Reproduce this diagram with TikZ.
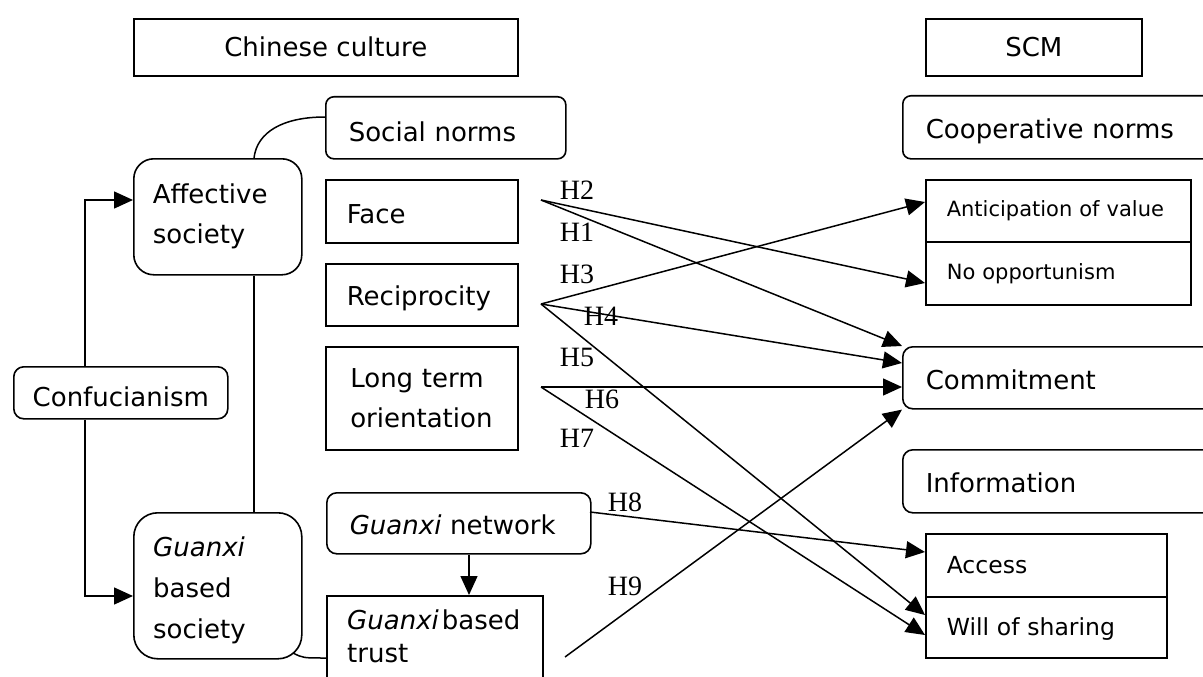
\documentclass[tikz,border=0pt]{standalone}
\usepackage{fontspec}
\setmainfont{DejaVu Sans}
\newfontfamily\hypfont{Liberation Serif}
\usetikzlibrary{arrows.meta}
% lower a one-line label inside its box without changing the box size
\newcommand{\dropby}[2]{\raisebox{-#1}[\height][\depth]{#2}}
\begin{document}
\begin{tikzpicture}[x=1pt,y=-1pt,
  every node/.style={font=\fontsize{26}{40}\selectfont},
  box/.style={draw, line width=1.6pt, anchor=north west, inner ysep=0pt, align=left},
  rbox/.style={box, rounded corners=#1},
  cbox/.style={draw, line width=1.6pt, anchor=north west, inner sep=0pt, align=center},
  small/.style={font=\fontsize{21}{26}\selectfont},
  mid/.style={font=\fontsize{23.5}{28}\selectfont},
  conn/.style={line width=1.5pt},
  arr/.style={conn, -{Triangle[length=19pt,width=17pt]}},
  hyp/.style={font=\hypfont\fontsize{28}{30}\selectfont, inner sep=0pt}]
\useasboundingbox (0,0) rectangle (1203,677);

% column headings
\node[cbox, minimum width=384pt, minimum height=57pt] (culture) at (133,18) {Chinese culture};
\node[cbox, minimum width=216pt, minimum height=57pt] (scm) at (925,18) {SCM};

% Chinese culture side
\node[rbox=8pt, minimum width=240pt, minimum height=62pt, inner xsep=23pt, text width=194pt] (social) at (325,96) {\dropby{4pt}{Social norms}};
\node[rbox=20pt, minimum width=168pt, minimum height=116pt, inner xsep=19pt, text width=130pt] (aff) at (133,158) {Affective\\society};
\node[box, minimum width=192pt, minimum height=63pt, inner xsep=21pt, text width=150pt] (face) at (325,179) {\dropby{3pt}{Face}};
\node[box, minimum width=192pt, minimum height=62pt, inner xsep=21pt, text width=150pt] (recip) at (325,263) {\dropby{4pt}{Reciprocity}};
\node[box, minimum width=192pt, minimum height=103pt, inner xsep=21pt, text width=143pt] (longt) at (325,346) {\makebox[\linewidth][s]{Long term}\\orientation};
\node[cbox, rounded corners=10pt, minimum width=214pt, minimum height=52pt] (conf) at (13,366) {\dropby{4pt}{Confucianism}};
\node[rbox=24pt, minimum width=168pt, minimum height=146pt] (gsoc) at (133,512) {};
\node[anchor=north west, inner sep=0pt, align=left, font=\fontsize{26}{41}\selectfont] (gsoct) at (153,537) {{\itshape Guanxi}\\based\\society};
\node[rbox=10pt, minimum width=264pt, minimum height=61pt, inner xsep=23pt, text width=218pt] (gnet) at (326,492) {\dropby{2pt}{{\itshape Guanxi} network}};
\node[box, minimum width=216pt, minimum height=110pt] (trust) at (326,595) {};
\node[anchor=north west, inner sep=0pt, align=left, font=\fontsize{26}{33}\selectfont] (trustt) at (347,610) {{\itshape Guanxi}\hspace{3pt}based\\trust};

% SCM side
\node[rbox=8pt, minimum width=320pt, minimum height=63pt, inner xsep=23pt, text width=274pt] (coop) at (902,95) {\dropby{4pt}{Cooperative norms}};
\node[box, small, minimum width=265pt, minimum height=62pt, inner xsep=21pt, text width=223pt] (ant) at (925,179) {Anticipation of value};
\node[box, small, minimum width=265pt, minimum height=63pt, inner xsep=21pt, text width=223pt] (opp) at (925,241) {No opportunism};
\node[rbox=10pt, minimum width=320pt, minimum height=62pt, inner xsep=23pt, text width=274pt] (commit) at (902,346) {\dropby{2pt}{Commitment}};
\node[rbox=10pt, minimum width=320pt, minimum height=63pt, inner xsep=23pt, text width=274pt] (info) at (902,449) {\dropby{2pt}{Information}};
\node[box, mid, minimum width=241pt, minimum height=63pt, inner xsep=21pt, text width=199pt] (acc) at (925,533) {Access};
\node[box, mid, minimum width=241pt, minimum height=61pt, inner xsep=21pt, text width=199pt] (will) at (925,596) {\dropby{2pt}{Will of sharing}};

% Confucianism feeds both societies
\coordinate (lx) at (85,0);
\draw[arr] (conf.north -| lx) |- (aff.west |- 0,200);
\draw[arr] (conf.south -| lx) |- (gsoc.west |- 0,596);

% links between the societies and their norms
\coordinate (mx) at (254,0);
\draw[conn] (aff.south -| mx) -- (gsoc.north -| mx);
\draw[conn] (aff.north -| mx) .. controls (257,132) and (283,117) .. (social.west |- 0,117);
\coordinate (gcorner) at (293,653);
\draw[conn] (gcorner) .. controls (303,658) .. (trust.west |- 0,658);
\coordinate (nx) at (469,0);
\draw[arr] (gnet.south -| nx) -- (trust.north -| nx);

% hypothesis arrows
\coordinate (fs) at (541,200);
\coordinate (rs) at (541,304);
\coordinate (ls) at (541,387);
\coordinate (gs) at (590,512);
\coordinate (ts) at (565,657);
\draw[arr] (fs) -- (commit.north west);
\draw[arr] (fs) -- (opp.west |- 0,283);
\draw[arr] (rs) -- (ant.west |- 0,202);
\draw[arr] (rs) -- (commit.west |- 0,363);
\draw[arr] (rs) -- (will.west |- 0,615);
\draw[arr] (ls) -- (commit.west |- 0,387);
\draw[arr] (ls) -- (will.west |- 0,635);
\draw[arr] (gs) -- (acc.west |- 0,552);
\draw[arr] (ts) -- (commit.south west);

% hypothesis labels
\node[hyp] (h2) at (577,190) {H2};
\node[hyp] (h1) at (577,232) {H1};
\node[hyp] (h3) at (577,274) {H3};
\node[hyp] (h4) at (601,316) {H4};
\node[hyp] (h5) at (577,357) {H5};
\node[hyp] (h6) at (602,399) {H6};
\node[hyp] (h7) at (577,438) {H7};
\node[hyp] (h8) at (625,502) {H8};
\node[hyp] (h9) at (625,586) {H9};
\end{tikzpicture}
\end{document}
